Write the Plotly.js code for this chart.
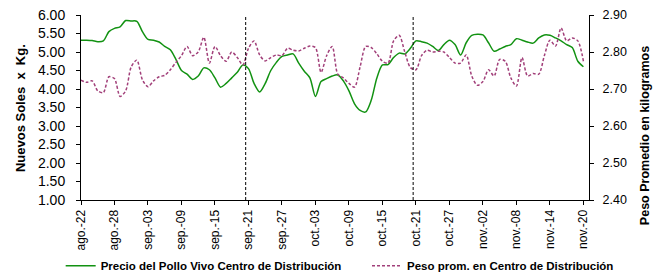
<!DOCTYPE html>
<html><head><meta charset="utf-8">
<script src="https://cdn.plot.ly/plotly-3.0.1.min.js"></script>
<style>html,body{margin:0;padding:0;background:#fff}#chart{width:654px;height:276px}</style>
</head><body><div id="chart"></div>
<script>
const startDate = '2021-08-22';
const nDays = 91;
const tickVals = ['2021-08-22','2021-08-28','2021-09-03','2021-09-09','2021-09-15','2021-09-21','2021-09-27','2021-10-03','2021-10-09','2021-10-15','2021-10-21','2021-10-27','2021-11-02','2021-11-08','2021-11-14','2021-11-20'];
const tickText = ['ago.-22','ago.-28','sep.-03','sep.-09','sep.-15','sep.-21','sep.-27','oct.-03','oct.-09','oct.-15','oct.-21','oct.-27','nov.-02','nov.-08','nov.-14','nov.-20'];
const markerDates = ['2021-09-20 12:00','2021-10-20 12:00'];
const precio = [5.32,5.32,5.31,5.28,5.30,5.55,5.64,5.68,5.85,5.84,5.83,5.55,5.34,5.32,5.27,5.15,5.06,4.80,4.50,4.40,
4.26,4.35,4.57,4.52,4.30,4.05,4.15,4.30,4.45,4.65,4.55,4.15,3.92,4.15,4.50,4.72,4.88,4.92,4.95,4.70,
4.48,4.30,3.80,4.20,4.28,4.35,4.38,4.22,3.95,3.60,3.42,3.38,3.70,4.30,4.65,4.66,4.85,4.97,4.95,5.10,
5.30,5.28,5.24,5.15,5.04,5.20,5.32,5.20,4.92,5.25,5.45,5.48,5.46,5.25,5.02,5.08,5.15,5.20,5.36,5.32,
5.27,5.24,5.38,5.46,5.45,5.38,5.30,5.20,5.12,4.75,4.60];
const peso = [2.724,2.718,2.722,2.695,2.690,2.733,2.728,2.680,2.695,2.760,2.778,2.725,2.706,2.722,2.733,2.737,2.752,2.772,2.790,2.815,
2.790,2.800,2.840,2.770,2.815,2.790,2.775,2.800,2.785,2.765,2.810,2.830,2.792,2.776,2.785,2.792,2.790,2.810,2.805,2.803,
2.810,2.816,2.812,2.745,2.790,2.815,2.740,2.730,2.715,2.705,2.760,2.815,2.812,2.795,2.775,2.770,2.830,2.845,2.800,2.758,
2.752,2.790,2.805,2.800,2.802,2.800,2.785,2.770,2.770,2.792,2.735,2.710,2.720,2.752,2.735,2.780,2.775,2.730,2.708,2.785,
2.735,2.742,2.740,2.790,2.832,2.816,2.865,2.830,2.838,2.830,2.775];
const seriesNames = ['Precio del Pollo Vivo Centro de Distribución','Peso prom. en Centro de Distribución'];

const dates = [];
{ const d0 = new Date(startDate + 'T00:00:00Z');
  for (let i = 0; i < nDays; i++) { const d = new Date(d0.getTime() + i*86400000); dates.push(d.toISOString().slice(0,10)); } }

const SANS = '"Liberation Sans", Arial, sans-serif';

const traces = [
  {x: dates, y: precio, name: seriesNames[0], type:'scatter', mode:'lines', line:{color:'#129212', width:1.5, shape:'spline', smoothing:0.8}, yaxis:'y', legend:'legend'},
  {x: dates, y: peso, name: seriesNames[1], type:'scatter', mode:'lines', line:{color:'#a2407a', width:1.5, dash:'3px,2px', shape:'spline', smoothing:0.8}, yaxis:'y2', legend:'legend2'}
];

const layout = {
  width:654, height:276,
  margin:{l:81, r:65, t:15, b:76, autoexpand:false},
  paper_bgcolor:'#fff', plot_bgcolor:'#fff',
  showlegend:true,
  xaxis:{type:'date', range:['2021-08-22','2021-11-21'], tickmode:'array', tickvals:tickVals, ticktext:tickText,
    tickangle:-90, ticks:'outside', ticklen:4, tickcolor:'#000', showline:true, linecolor:'#000', linewidth:1,
    showgrid:false, zeroline:false, tickfont:{family:SANS, size:12, color:'#000'}, automargin:false},
  yaxis:{range:[1,6], dtick:0.5, tick0:1, tickformat:'.2f', ticks:'outside', ticklen:4, tickcolor:'#000', showline:true,
    linecolor:'#000', linewidth:1, showgrid:false, zeroline:false, ticklabelstandoff:8, automargin:false,
    tickfont:{family:SANS, size:14, color:'#000'}},
  yaxis2:{range:[2.4,2.9], dtick:0.1, tick0:2.4, tickformat:'.2f', overlaying:'y', side:'right', ticks:'outside', ticklen:4,
    tickcolor:'#000', showline:true, linecolor:'#000', linewidth:1, showgrid:false, zeroline:false, automargin:false,
    ticklabelstandoff:6, tickfont:{family:SANS, size:12.5, color:'#000'}},
  legend:{orientation:'h', x:-0.04, xanchor:'left', y:-0.355, yanchor:'middle', font:{family:SANS, size:11.5, color:'#000', weight:'bold'}, bgcolor:'rgba(0,0,0,0)'},
  legend2:{orientation:'h', x:0.563, xanchor:'left', y:-0.355, yanchor:'middle', font:{family:SANS, size:11.5, color:'#000', weight:'bold'}, bgcolor:'rgba(0,0,0,0)'},
  shapes: markerDates.map(d => ({type:'line', xref:'x', yref:'paper', x0:d, x1:d, y0:0, y1:1, line:{color:'#000', width:1, dash:'3px,2px'}})),
  annotations:[
    {text:'<b>Nuevos Soles  x  Kg.</b>', xref:'paper', yref:'paper', x:-0.12, y:0.497, xanchor:'center', yanchor:'middle', textangle:-90, showarrow:false, font:{family:SANS, size:13, color:'#000'}},
    {text:'<b>Peso Promedio en kilogramos</b>', xref:'paper', yref:'paper', x:1.11, y:0.35, xanchor:'center', yanchor:'middle', textangle:-90, showarrow:false, font:{family:SANS, size:12.5, color:'#000'}}
  ]
};
Plotly.newPlot('chart', traces, layout, {staticPlot:true, displayModeBar:false});
</script></body></html>
